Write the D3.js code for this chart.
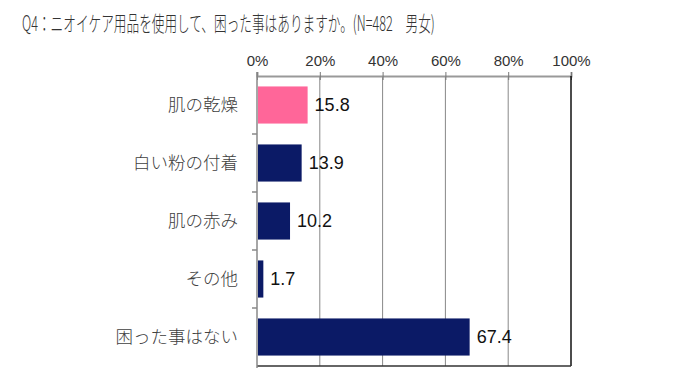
<!DOCTYPE html>
<html>
<head>
<meta charset="utf-8">
<script src="https://cdn.jsdelivr.net/npm/d3@7"></script>
<style>
  body { margin: 0; background: #fff; }
  text { font-family: "Noto Sans CJK JP", "Noto Sans", sans-serif; }
</style>
</head>
<body>
<div class="chart"></div>
<script>
const categories = ["肌の乾燥", "白い粉の付着", "肌の赤み", "その他", "困った事はない"];
const values = [15.8, 13.9, 10.2, 1.7, 67.4];
const ticks = [0, 20, 40, 60, 80, 100];
const title = "Q4：ニオイケア用品を使用して、困った事はありますか。(N=482　男女)";

const width = 700, height = 374;
const margin = {top: 76, left: 257, right: 129, bottom: 8};

const svg = d3.select(".chart")
    .append("svg")
    .attr("width", width)
    .attr("height", height);

const xScale = d3.scaleLinear()
    .domain([0, 100])
    .range([margin.left, width - margin.right]);

const yScale = d3.scaleBand()
    .domain(categories)
    .range([margin.top, height - margin.bottom])
    .paddingInner(0.36)
    .paddingOuter(0.18);

// title (squeezed horizontally like the original narrow font)
const titleText = svg.append("text")
    .attr("x", 0)
    .attr("y", 0)
    .attr("font-size", 21)
    .attr("font-weight", 300)
    .attr("fill", "#333")
    .text(title);
const titleLen = titleText.node().getComputedTextLength();
titleText.attr("transform", "translate(22,31) scale(" + (413 / titleLen) + ",1)");

// gridlines
svg.selectAll(".grid")
    .data(ticks.slice(1, -1))
    .enter()
    .append("line")
    .attr("x1", d => xScale(d))
    .attr("x2", d => xScale(d))
    .attr("y1", margin.top)
    .attr("y2", height - margin.bottom)
    .attr("stroke", "#888")
    .attr("stroke-width", 1);

// top axis
const xAxis = d3.axisTop(xScale)
    .tickValues(ticks)
    .tickSize(4)
    .tickFormat(d => d + "%");

svg.append("g")
    .attr("class", "axis x-axis")
    .attr("transform", "translate(0," + margin.top + ")")
    .call(xAxis)
    .call(g => g.select(".domain").attr("stroke", "#999").attr("stroke-width", 2))
    .call(g => g.selectAll(".tick line").attr("stroke", "#777").attr("y2", 4).attr("y1", -4))
    .call(g => g.selectAll(".tick text")
        .attr("font-size", 15)
        .attr("fill", "#333")
        .attr("y", -10)
        .style("font-family", "'Liberation Sans Narrow', 'Liberation Sans', sans-serif"));

// border right and bottom
svg.append("line")
    .attr("x1", xScale(100)).attr("x2", xScale(100))
    .attr("y1", margin.top).attr("y2", height - margin.bottom)
    .attr("stroke", "#111").attr("stroke-width", 1.5);
svg.append("line")
    .attr("x1", xScale(0)).attr("x2", xScale(100))
    .attr("y1", height - margin.bottom).attr("y2", height - margin.bottom)
    .attr("stroke", "#333").attr("stroke-width", 1.5);

// left axis
const bandEdges = categories.map(c => yScale(c) - yScale.step() * yScale.paddingInner() / 2).slice(1);
svg.append("line")
    .attr("x1", xScale(0)).attr("x2", xScale(0))
    .attr("y1", margin.top - 4).attr("y2", height - margin.bottom + 2)
    .attr("stroke", "#888").attr("stroke-width", 1.5);
svg.selectAll(".ytick")
    .data(bandEdges)
    .enter()
    .append("line")
    .attr("x1", xScale(0) - 5).attr("x2", xScale(0))
    .attr("y1", d => d).attr("y2", d => d)
    .attr("stroke", "#888").attr("stroke-width", 1.5);

// bars
svg.selectAll(".bar")
    .data(categories)
    .enter()
    .append("rect")
    .attr("x", xScale(0) + 1)
    .attr("y", d => yScale(d))
    .attr("width", (d, i) => xScale(values[i]) - xScale(0))
    .attr("height", yScale.bandwidth())
    .attr("fill", (d, i) => i === 0 ? "#ff6699" : "#0b1a66");

// category labels
svg.selectAll(".cat")
    .data(categories)
    .enter()
    .append("text")
    .attr("x", 238)
    .attr("y", d => yScale(d) + yScale.bandwidth() / 2)
    .attr("dy", "0.35em")
    .attr("text-anchor", "end")
    .attr("font-size", 17.5)
    .attr("font-weight", 300)
    .attr("fill", "#404040")
    .text(d => d);

// value labels
svg.selectAll(".val")
    .data(categories)
    .enter()
    .append("text")
    .attr("x", (d, i) => xScale(values[i]) + 8)
    .attr("y", d => yScale(d) + yScale.bandwidth() / 2)
    .attr("dy", "0.36em")
    .attr("font-size", 18)
    .attr("fill", "#111")
    .style("font-family", "'Liberation Sans', Arial, sans-serif")
    .text((d, i) => values[i].toFixed(1));
</script>
</body>
</html>
